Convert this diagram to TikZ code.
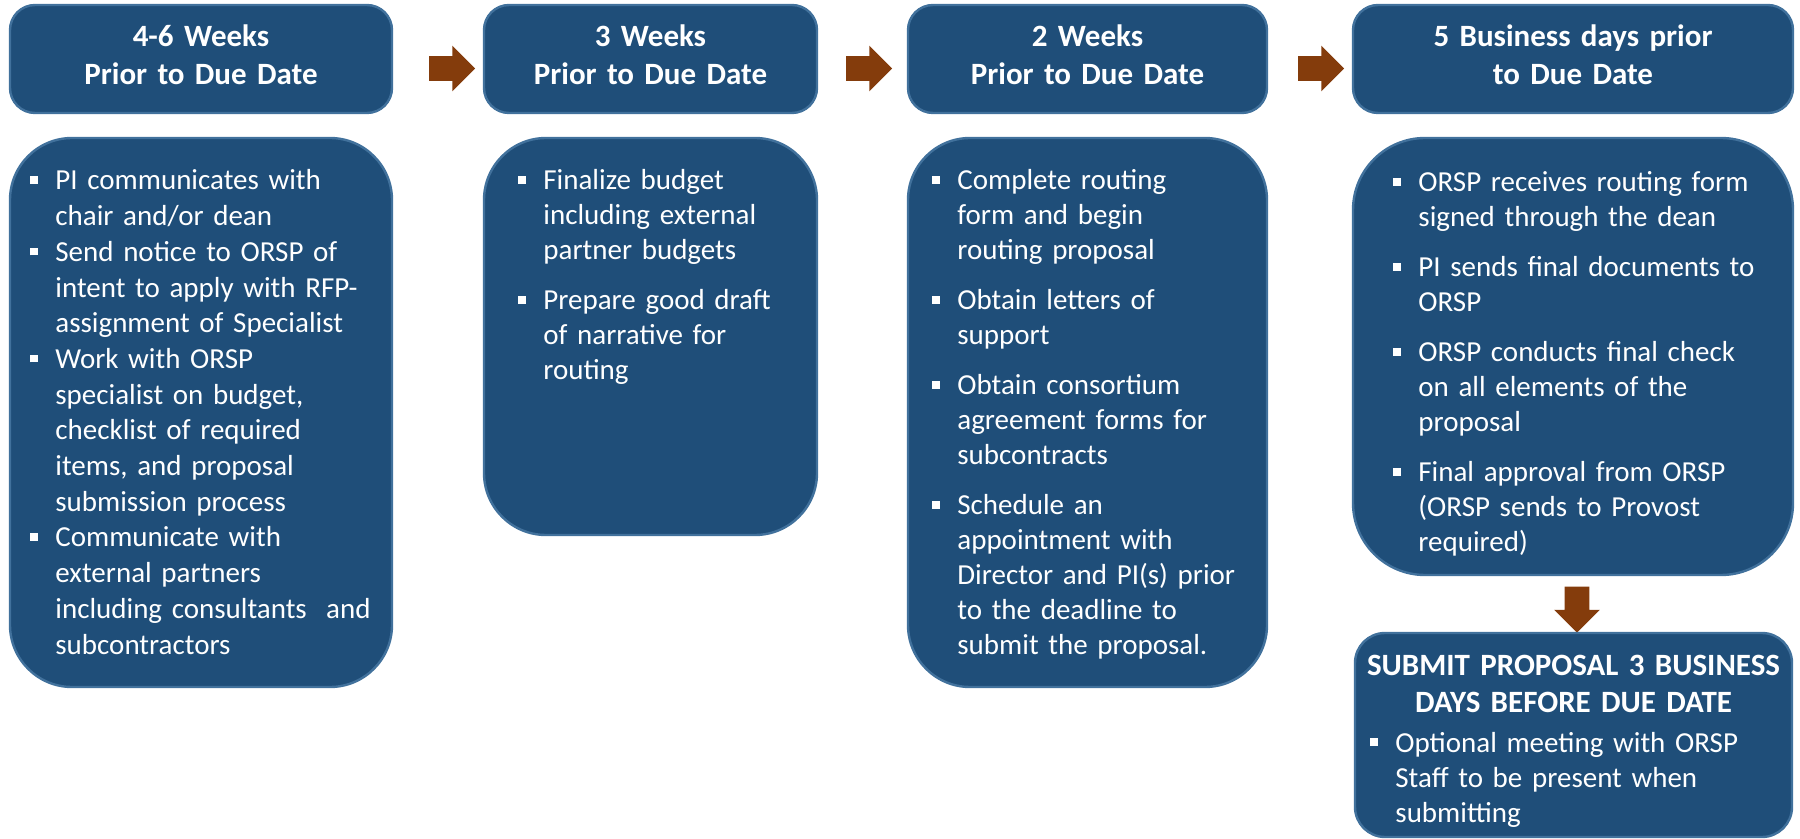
\documentclass[tikz,border=0pt]{standalone}
\usepackage{fontspec}
\setmainfont{Carlito}
\usetikzlibrary{shapes.arrows,fit}

\definecolor{boxblue}{HTML}{1F4E79}
\definecolor{boxline}{HTML}{41719C}
\definecolor{arrowbrown}{HTML}{843C0C}

\newlength{\itemgap}
\setlength{\itemgap}{7.5pt}
\newcommand{\bsq}{\rule[3pt]{3.8pt}{3.8pt}}
% first item of a list, then the following ones
\newcommand{\fitem}[1]{\hangindent=12.5pt\hangafter=1\noindent\makebox[12.5pt][l]{\bsq}#1}
\newcommand{\bitem}[1]{\par\vspace{\itemgap}\fitem{#1}}

\tikzset{
    hdbox/.style={draw=boxline, fill=boxblue, line width=1.2pt, rounded corners=12.5pt, inner sep=0pt},
    hdtxt/.style={text=white, anchor=base, inner sep=0pt, text width=#1, align=center,
        font=\fontsize{15.5pt}{19pt}\selectfont\bfseries},
    bodybox/.style={draw=boxline, fill=boxblue, line width=1.2pt, rounded corners=#1, inner sep=0pt},
    bodytxt/.style={text=white, anchor=base west, inner sep=0pt, text width=#1, align=left,
        font=\fontsize{14.5pt}{17.5pt}\selectfont},
    blockarr/.style={single arrow, fill=arrowbrown, inner xsep=0pt, inner ysep=6pt,
        minimum height=23pt, minimum width=22.5pt, single arrow head extend=5.25pt}
}

\begin{document}
\begin{tikzpicture}[x=0.5pt, y=-0.5pt]
        \useasboundingbox (0,0) rectangle (1800,839);
        % headers
        \node[hdbox, fit={(10,5) (392,113)}] (hdA) {};
        \node[hdbox, fit={(484,5) (817,113)}] (hdB) {};
        \node[hdbox, fit={(908,5) (1267,113)}] (hdC) {};
        \node[hdbox, fit={(1353,5) (1793,113)}] (hdD) {};
        \node[hdtxt=180pt] (hdAtxt) at (201,47) {4-6 Weeks\\Prior to Due Date};
        \node[hdtxt=160pt] (hdBtxt) at (650.5,47) {3 Weeks\\Prior to Due Date};
        \node[hdtxt=170pt] (hdCtxt) at (1087.5,47) {2 Weeks\\Prior to Due Date};
        \node[hdtxt=210pt] (hdDtxt) at (1573,47) {5 Business days prior\\to Due Date};
        \node[blockarr] (arrAB) at (446,68.5) {};
        \node[blockarr] (arrBC) at (863,68.5) {};
        \node[blockarr] (arrCD) at (1315,68.5) {};
        % bodies
        \node[bodybox=31pt, fit={(10,138) (392,687)}] (bodyA) {};
        \node[bodybox=31pt, fit={(484,138) (817,535)}] (bodyB) {};
        \node[bodybox=31pt, fit={(908,138) (1267,687)}] (bodyC) {};
        \node[bodybox=36pt, fit={(1353,138) (1793,575)}] (bodyD) {};
        \node[blockarr, shape border rotate=270, inner xsep=6pt, inner ysep=0pt] (arrDown) at (1577,603.5) {};
        \node[bodybox=15pt, fit={(1355,633) (1792,837)}] (submit) {};
        \node[bodytxt=180pt, font=\fontsize{14.5pt}{17.85pt}\selectfont] (txtA) at (30,190) {\setlength{\itemgap}{0pt}%
            \fitem{PI communicates with\newline chair and/or dean}
            \bitem{Send notice to ORSP of\newline intent to apply with RFP-\newline assignment of Specialist}
            \bitem{Work with ORSP\newline specialist on budget,\newline checklist of required\newline items, and proposal\newline submission process}
            \bitem{Communicate with\newline external partners\newline including consultants\ \ and\newline subcontractors}\par};
        \node[bodytxt=146pt] (txtB) at (518,190) {%
            \fitem{Finalize budget\newline including external\newline partner budgets}
            \bitem{Prepare good draft\newline of narrative for\newline routing}\par};
        \node[bodytxt=164pt] (txtC) at (932,190) {%
            \fitem{Complete routing\newline form and begin\newline routing proposal}
            \bitem{Obtain letters of\newline support}
            \bitem{Obtain consortium\newline agreement forms for\newline subcontracts}
            \bitem{Schedule an\newline appointment with\newline Director and PI(s) prior\newline to the deadline to\newline submit the proposal.}\par};
        \node[bodytxt=196pt] (txtD) at (1393,192) {%
            \fitem{ORSP receives routing form\newline signed through the dean}
            \bitem{PI sends final documents to\newline ORSP}
            \bitem{ORSP conducts final check\newline on all elements of the\newline proposal}
            \bitem{Final approval from ORSP\newline (ORSP sends to Provost\newline required)}\par};
        \node[hdtxt=215pt] (subHd) at (1573.5,675) {SUBMIT PROPOSAL 3 BUSINESS\\DAYS BEFORE DUE DATE};
        \node[bodytxt=205pt] (txtSub) at (1370,752) {%
            \fitem{Optional meeting with ORSP\newline Staff to be present when\newline submitting}\par};
\end{tikzpicture}
\end{document}
